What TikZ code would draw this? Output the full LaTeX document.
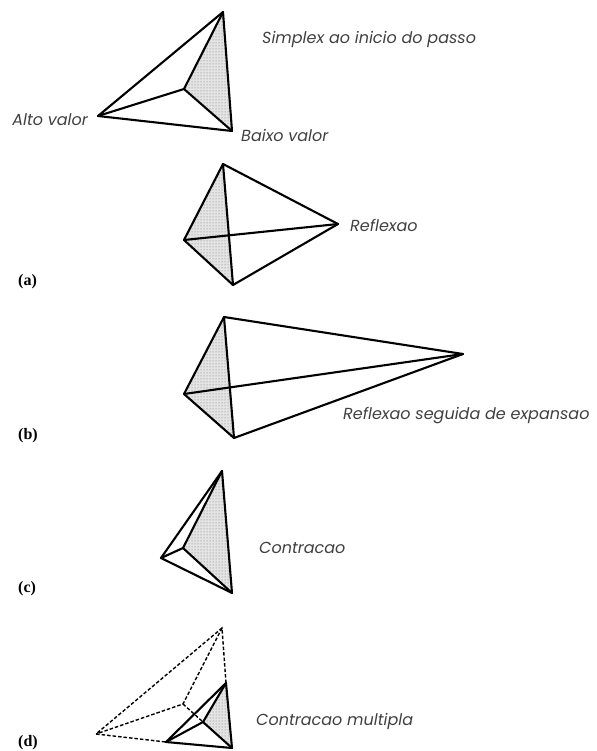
\documentclass[tikz,border=0pt]{standalone}
\usepackage{fontspec}
\setsansfont{Poppins}
\setmainfont{Liberation Serif}
\usetikzlibrary{patterns}
\definecolor{shadegray}{RGB}{228,228,228}

\begin{document}
\begin{tikzpicture}[
  x=1pt,y=-1pt,
  edge/.style={line width=2.1pt,line cap=round,line join=round},
  thinedge/.style={line width=1.4pt,dash pattern=on 3.5pt off 2pt},
  shaded/.style={fill=shadegray,postaction={pattern=dots,pattern color=black!55}},
  label/.style={font=\sffamily\itshape\fontsize{16}{18}\selectfont,text=black!75,inner sep=0pt,anchor=west},
  tag/.style={font=\rmfamily\bfseries\fontsize{16}{18}\selectfont,inner sep=0pt,anchor=west},
]
  \useasboundingbox (0,0) rectangle (596,751);
  % simplex at start
  \coordinate (t0) at (223,12);
  \coordinate (l0) at (98,116);
  \coordinate (b0) at (232,131);
  \coordinate (c0) at (184,89);
  \fill[shaded] (t0) -- (c0) -- (b0) -- cycle;
  \draw[edge] (t0) -- (l0) -- (b0) -- cycle;
  \draw[edge] (c0) -- (t0);
  \draw[edge] (c0) -- (l0);
  \draw[edge] (c0) -- (b0);
  \node[label] (start) at (262,39) {Simplex ao inicio do passo};
  \node[label,anchor=east] (high) at (88,120) {Alto valor};
  \node[label] (low) at (241,135) {Baixo valor};
  % reflection
  \coordinate (t1) at (223,164);
  \coordinate (c1) at (184,240);
  \coordinate (b1) at (233,285);
  \coordinate (r1) at (338,224);
  \fill[shaded] (t1) -- (c1) -- (b1) -- cycle;
  \draw[edge] (t1) -- (c1) -- (b1) -- (r1) -- cycle;
  \draw[edge] (t1) -- (b1);
  \draw[edge] (c1) -- (r1);
  \node[label] (refl) at (350,225) {Reflexao};
  \node[tag] (taga) at (18,282) {(a)};
  % reflection + expansion
  \coordinate (t2) at (224,317);
  \coordinate (c2) at (184,394);
  \coordinate (b2) at (234,438);
  \coordinate (e2) at (463,354);
  \fill[shaded] (t2) -- (c2) -- (b2) -- cycle;
  \draw[edge] (t2) -- (c2) -- (b2) -- (e2) -- cycle;
  \draw[edge] (t2) -- (b2);
  \draw[edge] (c2) -- (e2);
  \node[label] (expa) at (343,416) {Reflexao seguida de expansao};
  \node[tag] (tagb) at (18,436) {(b)};
  % contraction
  \coordinate (t3) at (222,471);
  \coordinate (l3) at (161,558);
  \coordinate (c3) at (183,548);
  \coordinate (b3) at (232,593);
  \fill[shaded] (t3) -- (c3) -- (b3) -- cycle;
  \draw[edge] (t3) -- (l3) -- (b3) -- cycle;
  \draw[edge] (c3) -- (t3);
  \draw[edge] (c3) -- (l3);
  \draw[edge] (c3) -- (b3);
  \node[label] (cont) at (259,548) {Contracao};
  \node[tag] (tagc) at (18,589) {(c)};
  % multiple contraction
  \coordinate (t4) at (222,628);
  \coordinate (l4) at (96,734);
  \coordinate (c4) at (183,704);
  \coordinate (b4) at (232,748);
  \coordinate (t5) at (226,683);
  \coordinate (l5) at (166,742);
  \coordinate (c5) at (203,722);
  \fill[shaded] (t5) -- (c5) -- (b4) -- cycle;
  \draw[thinedge] (t5) -- (t4) -- (l4) -- (l5);
  \draw[thinedge] (t4) -- (c4) -- (l4);
  \draw[thinedge] (c4) -- (c5);
  \draw[edge] (t5) -- (l5) -- (b4) -- cycle;
  \draw[edge] (c5) -- (t5);
  \draw[edge] (c5) -- (l5);
  \draw[edge] (c5) -- (b4);
  \node[label] (multi) at (256,721) {Contracao multipla};
  \node[tag] (tagd) at (18,743) {(d)};
\end{tikzpicture}
\end{document}
